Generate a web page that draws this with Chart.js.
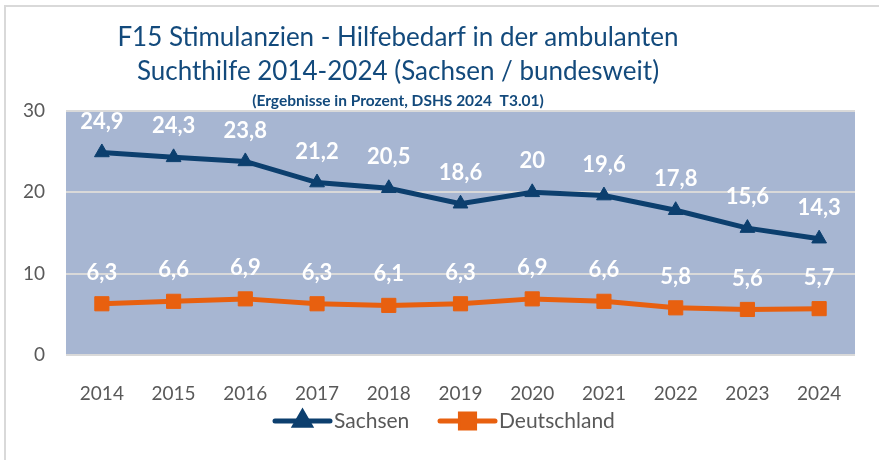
<!DOCTYPE html>
<html lang="de">
<head>
<meta charset="utf-8">
<title>F15 Stimulanzien - Hilfebedarf</title>
<script src="https://cdn.jsdelivr.net/npm/chart.js@4/dist/chart.umd.min.js"></script>
<style>
  html, body { margin: 0; padding: 0; background: #fff; }
  canvas { display: block; }
</style>
</head>
<body>
<canvas id="chart" width="879" height="460"></canvas>
<script>
const years = ['2014', '2015', '2016', '2017', '2018', '2019', '2020', '2021', '2022', '2023', '2024'];
const sachsen = [24.9, 24.3, 23.8, 21.2, 20.5, 18.6, 20, 19.6, 17.8, 15.6, 14.3];
const deutschland = [6.3, 6.6, 6.9, 6.3, 6.1, 6.3, 6.9, 6.6, 5.8, 5.6, 5.7];
const titleLines = ['F15 Stimulanzien - Hilfebedarf in der ambulanten', 'Suchthilfe 2014-2024 (Sachsen / bundesweit)'];
const subtitle = '(Ergebnisse in Prozent, DSHS 2024  T3.01)';

const BLUE = '#0C3F6E';
const ORANGE = '#E8600F';
const TITLE_BLUE = '#134A7C';
const GREY_TEXT = '#595959';
const FONT = 'Lato, "Open Sans", sans-serif';

// frame, plot background, title, value labels, legend
const decor = {
  id: 'decor',
  beforeDraw(chart) {
    const { ctx, chartArea: a } = chart;
    ctx.save();
    ctx.fillStyle = '#A7B6D2';
    ctx.fillRect(a.left, a.top, a.right - a.left, a.bottom - a.top);
    ctx.strokeStyle = '#D9D9D9';
    ctx.lineWidth = 2;
    ctx.beginPath();
    ctx.moveTo(5, 460);
    ctx.lineTo(5, 6);
    ctx.lineTo(879, 6);
    ctx.stroke();
    ctx.restore();
  },
  afterDraw(chart) {
    const { ctx } = chart;
    ctx.save();
    ctx.textAlign = 'center';
    ctx.textBaseline = 'middle';
    ctx.fillStyle = TITLE_BLUE;
    ctx.font = '26px ' + FONT;
    ctx.fillText(titleLines[0], 398, 38);
    ctx.fillText(titleLines[1], 398, 72);
    ctx.font = 'bold 15.5px ' + FONT;
    ctx.fillText(subtitle, 398, 101);

    // value labels above each point
    ctx.fillStyle = '#FFFFFF';
    ctx.font = 'bold 22px ' + FONT;
    chart.data.datasets.forEach((ds, i) => {
      chart.getDatasetMeta(i).data.forEach((pt, j) => {
        ctx.fillText(ds.data[j].toLocaleString('de-DE'), pt.x, pt.y - 31);
      });
    });

    // legend: line with marker, then label
    const items = [
      { text: 'Sachsen', color: BLUE, style: 'triangle', x: 275 },
      { text: 'Deutschland', color: ORANGE, style: 'rect', x: 440 }
    ];
    const ly = 421;
    items.forEach(it => {
      ctx.strokeStyle = it.color;
      ctx.lineWidth = 5;
      ctx.lineCap = 'round';
      ctx.beginPath();
      ctx.moveTo(it.x, ly);
      ctx.lineTo(it.x + 55, ly);
      ctx.stroke();
      Chart.helpers.drawPoint(ctx, {
        pointStyle: it.style, radius: it.style === 'rect' ? 10 : 8.5,
        borderWidth: 1, rotation: 0
      }, it.x + 27.5, ly);
      ctx.fillStyle = it.color;
      ctx.fill();
      ctx.fillStyle = GREY_TEXT;
      ctx.font = '21px ' + FONT;
      ctx.textAlign = 'left';
      ctx.fillText(it.text, it.x + 59, ly);
    });
    ctx.restore();
  }
};

new Chart(document.getElementById('chart'), {
  type: 'line',
  data: {
    labels: years,
    datasets: [
      {
        label: 'Sachsen',
        data: sachsen,
        borderColor: BLUE,
        backgroundColor: BLUE,
        borderWidth: 5,
        pointStyle: 'triangle',
        pointRadius: 8.5,
        pointBorderWidth: 1,
        tension: 0
      },
      {
        label: 'Deutschland',
        data: deutschland,
        borderColor: ORANGE,
        backgroundColor: ORANGE,
        borderWidth: 5,
        pointStyle: 'rect',
        pointRadius: 10,
        pointBorderWidth: 1,
        tension: 0
      }
    ]
  },
  options: {
    responsive: false,
    animation: false,
    layout: { padding: { top: 111, right: 24, bottom: 55, left: 0 } },
    plugins: {
      legend: { display: false },
      title: { display: false },
      tooltip: { enabled: false }
    },
    scales: {
      x: {
        offset: true,
        grid: { display: false },
        border: { display: false },
        ticks: { color: GREY_TEXT, font: { family: FONT, size: 19 }, padding: 19 },
        afterFit(scale) { scale.height = 50; }
      },
      y: {
        min: 0,
        max: 30,
        ticks: { stepSize: 10, color: GREY_TEXT, font: { family: FONT, size: 19 }, padding: 21 },
        grid: { color: '#D9D9D9', lineWidth: 2, drawTicks: false },
        border: { display: false },
        afterFit(scale) { scale.width = 66; }
      }
    }
  },
  plugins: [decor]
});
</script>
</body>
</html>
